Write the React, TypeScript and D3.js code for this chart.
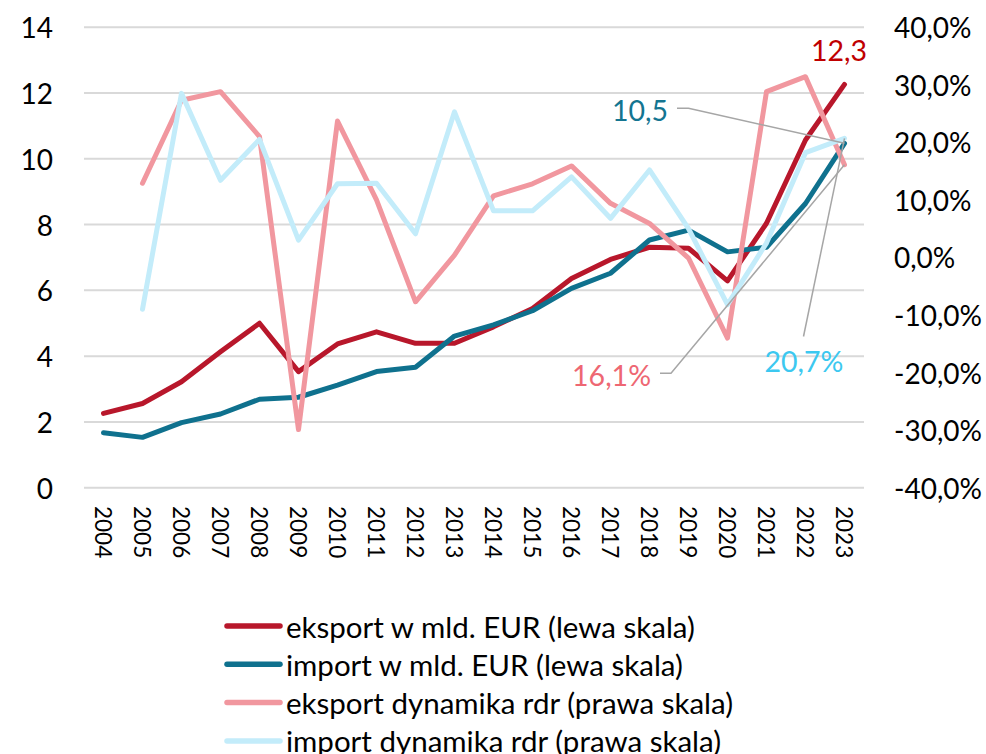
import React from "react";
import * as d3 from "d3";

const years = ["2004","2005","2006","2007","2008","2009","2010","2011","2012","2013","2014","2015","2016","2017","2018","2019","2020","2021","2022","2023"];
const exportEUR = [2.26,2.56,3.22,4.13,5.0,3.53,4.37,4.74,4.39,4.39,4.89,5.45,6.36,6.94,7.31,7.28,6.29,8.04,10.57,12.26];
const importEUR = [1.67,1.53,1.98,2.24,2.69,2.75,3.12,3.53,3.66,4.61,4.95,5.38,6.06,6.52,7.53,7.83,7.17,7.31,8.64,10.47];
const exportDyn: (number|null)[] = [null,0.129,0.273,0.288,0.21,-0.299,0.237,0.10,-0.077,0.004,0.107,0.128,0.159,0.094,0.059,-0.001,-0.14,0.288,0.314,0.161];
const importDyn: (number|null)[] = [null,-0.09,0.285,0.134,0.205,0.03,0.128,0.129,0.041,0.253,0.081,0.081,0.14,0.068,0.152,0.05,-0.082,0.025,0.182,0.207];
const leftTicks = [0,2,4,6,8,10,12,14];
const rightTicks = [-0.4,-0.3,-0.2,-0.1,0,0.1,0.2,0.3,0.4];
const legendLabels = [
  "eksport w mld. EUR (lewa skala)",
  "import w mld. EUR (lewa skala)",
  "eksport dynamika rdr (prawa skala)",
  "import dynamika rdr (prawa skala)",
];

const C_EXP = "#b8172b";
const C_IMP = "#0f718e";
const C_EXPD = "#f1979f";
const C_IMPD = "#c3ecfa";
const FONT = "Lato, 'Open Sans', sans-serif";

export default function App() {
  const W = 986, H = 754;
  const x = d3.scaleBand<string>().domain(years).range([84, 864]);
  const cx = (y: string) => (x(y) as number) + x.bandwidth() / 2;
  const yL = d3.scaleLinear().domain([0, 14]).range([487.7, 27.2]);
  const yR = d3.scaleLinear().domain([-0.4, 0.4]).range([487.7, 27.2]);
  const fmtPct = (v: number) => (v * 100).toFixed(1).replace(".", ",") + "%";

  const lineL = d3.line<number>().x((_, i) => cx(years[i])).y((d) => yL(d));
  const lineR = d3.line<number | null>()
    .defined((d) => d !== null)
    .x((_, i) => cx(years[i]))
    .y((d) => yR(d as number));

  const last = years[years.length - 1];
  const lastX = cx(last);
  const leader = d3.line<[number, number]>();

  const series = [
    { d: lineL(exportEUR), c: C_EXP },
    { d: lineL(importEUR), c: C_IMP },
    { d: lineR(exportDyn), c: C_EXPD },
    { d: lineR(importDyn), c: C_IMPD },
  ];
  const legendColors = [C_EXP, C_IMP, C_EXPD, C_IMPD];

  return (
    <svg width={W} height={H} style={{ position: "absolute", left: 0, top: 0, background: "#fff" }} fontFamily={FONT}>
      {leftTicks.map((t) => (
        <line key={"g" + t} x1={84} x2={864} y1={yL(t)} y2={yL(t)} stroke="#d9d9d9" strokeWidth={2} />
      ))}
      {leftTicks.map((t) => (
        <text key={"l" + t} x={53} y={yL(t)} textAnchor="end" dominantBaseline="central" fontSize={28} fill="#000">
          {t}
        </text>
      ))}
      {rightTicks.map((t) => (
        <text key={"r" + t} x={894} y={yR(t)} textAnchor="start" dominantBaseline="central" fontSize={28} fill="#000">
          {fmtPct(t)}
        </text>
      ))}
      {years.map((y) => (
        <text key={"x" + y} transform={`translate(${cx(y)},506) rotate(90)`} textAnchor="start" dominantBaseline="central" fontSize={22.5} fill="#000">
          {y}
        </text>
      ))}
      {series.map((s, i) => (
        <path key={"s" + i} d={s.d || ""} fill="none" stroke={s.c} strokeWidth={5} strokeLinejoin="round" strokeLinecap="round" />
      ))}
      {/* leader lines */}
      <path d={leader([[677, 108.3], [688.5, 108.3], [lastX, yL(importEUR[19])]]) || ""} fill="none" stroke="#a6a6a6" strokeWidth={1.5} />
      <path d={leader([[660, 373.3], [671, 373.3], [lastX, yR(exportDyn[19] as number)]]) || ""} fill="none" stroke="#a6a6a6" strokeWidth={1.5} />
      <path d={leader([[803.5, 336.5], [lastX, yR(importDyn[19] as number)]]) || ""} fill="none" stroke="#a6a6a6" strokeWidth={1.5} />
      {/* data labels */}
      <text x={839} y={61} textAnchor="middle" fontSize={28.5} fill="#c00000">{exportEUR[19].toFixed(1).replace(".", ",")}</text>
      <text x={668} y={120.5} textAnchor="end" fontSize={28.5} fill="#147591">{importEUR[19].toFixed(1).replace(".", ",")}</text>
      <text x={651} y={385.5} textAnchor="end" fontSize={28.5} fill="#ee6773">{fmtPct(exportDyn[19] as number)}</text>
      <text x={804} y={371.5} textAnchor="middle" fontSize={28.5} fill="#3cc8f0">{fmtPct(importDyn[19] as number)}</text>
      {/* legend */}
      {legendLabels.map((lab, i) => {
        const yy = 626 + i * 38.3;
        return (
          <g key={"lg" + i}>
            <line x1={227} x2={280} y1={yy} y2={yy} stroke={legendColors[i]} strokeWidth={5.5} strokeLinecap="round" />
            <text x={286} y={yy} dominantBaseline="central" fontSize={29.5} fill="#000">{lab}</text>
          </g>
        );
      })}
    </svg>
  );
}
